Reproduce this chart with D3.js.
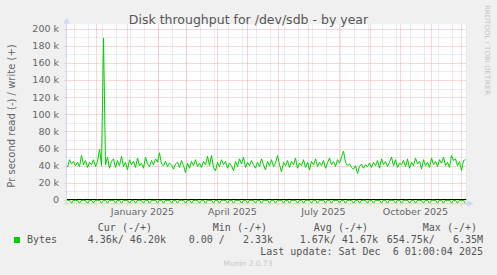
<!DOCTYPE html>
<html>
<head>
<meta charset="utf-8">
<script src="https://cdn.jsdelivr.net/npm/d3@7"></script>
<style>
  body { margin: 0; background: #f0f0f0; }
  svg { display: block; }
  text { font-family: "DejaVu Sans", sans-serif; fill: #666; }
  .mono { font-family: "DejaVu Sans Mono", monospace; font-size: 10px; fill: #555; }
</style>
</head>
<body>
<script>
// write (+) in k, one sample every 2 days
var writeK = [
  38, 47, 42, 45, 40, 44, 39, 52, 41, 46, 38, 44, 41, 47, 39, 45, 59, 40, 189, 41,
  50, 37, 45, 48, 38, 46, 40, 51, 39, 44, 35, 47, 41, 45, 38, 49, 40, 43, 37, 50,
  42, 39, 46, 41, 48, 44, 55, 42, 40, 45, 39, 43, 41, 36, 42, 44, 38, 46, 40, 32,
  43, 37, 45, 40, 47, 39, 43, 38, 45, 41, 51, 40, 52, 38, 34, 44, 39, 47, 41, 45,
  37, 43, 40, 34, 45, 39, 48, 42, 50, 38, 44, 40, 46, 41, 37, 44, 39, 48, 41, 35,
  45, 40, 47, 39, 43, 52, 41, 33, 44, 40, 46, 38, 45, 41, 49, 37, 43, 40, 47, 38,
  44, 35, 45, 41, 48, 39, 44, 40, 46, 37, 43, 49, 41, 45, 39, 47, 43, 50, 57, 44,
  40, 42, 38, 36, 40, 31, 39, 42, 37, 41, 39, 43, 38, 44, 40, 46, 37, 48, 41, 45,
  39, 44, 50, 40, 47, 38, 43, 41, 46, 39, 48, 37, 44, 40, 49, 42, 45, 36, 47, 40,
  44, 38, 49, 41, 45, 39, 47, 43, 50, 40, 44, 38, 52, 46, 48, 40, 45, 34, 46, 47
]
// read (-) in k, same samples
var readK = [
  0.4, 0.5, 3.8, 0.3, 0.5, 0.4, 3.6, 0.5, 0.3, 0.6, 3.9, 0.4, 0.5, 3.5, 0.4, 0.3, 0.6, 3.7, 0.5, 0.4,
  3.8, 0.3, 0.5, 0.4, 3.6, 0.5, 0.4, 3.9, 0.3, 0.5, 0.4, 3.7, 0.4, 0.5, 3.8, 0.3, 0.4, 0.5, 3.6, 0.4,
  0.3, 3.9, 0.5, 0.4, 0.3, 3.7, 0.5, 0.4, 3.8, 0.3, 0.5, 0.4, 3.6, 0.4, 0.5, 3.9, 0.3, 0.4, 0.5, 3.7,
  0.4, 0.3, 3.8, 0.5, 0.4, 0.3, 3.6, 0.5, 0.4, 3.9, 0.3, 0.5, 0.4, 3.7, 0.4, 0.5, 3.8, 0.3, 0.4, 0.5,
  3.6, 0.4, 0.3, 3.9, 0.5, 0.4, 0.3, 3.7, 0.5, 0.4, 3.8, 0.3, 0.5, 0.4, 3.6, 0.4, 0.5, 3.9, 0.3, 0.4,
  0.5, 3.7, 0.4, 0.3, 3.8, 0.5, 0.4, 0.3, 3.6, 0.5, 0.4, 3.9, 0.3, 0.5, 0.4, 3.7, 0.4, 0.5, 3.8, 0.3,
  0.4, 0.5, 3.6, 0.4, 0.3, 3.9, 0.5, 0.4, 0.3, 3.7, 0.5, 0.4, 3.8, 0.3, 0.5, 0.4, 3.6, 0.4, 0.5, 3.9,
  0.3, 0.4, 0.5, 3.7, 0.4, 0.3, 3.8, 0.5, 0.4, 0.3, 3.6, 0.5, 0.4, 3.9, 0.3, 0.5, 0.4, 3.7, 0.4, 0.5,
  3.8, 0.3, 0.4, 0.5, 3.6, 0.4, 0.3, 3.9, 0.5, 0.4, 0.3, 3.7, 0.5, 0.4, 3.8, 0.3, 0.5, 0.4, 3.6, 0.4,
  0.5, 3.9, 0.3, 0.4, 0.5, 3.7, 0.4, 0.3, 3.8, 0.5, 0.4, 0.3, 3.6, 0.5, 0.4, 3.9, 0.3, 0.5, 0.4, 4.4
]
var yTicks = [0, 20000, 40000, 60000, 80000, 100000, 120000, 140000, 160000, 180000, 200000]
var monthLabels = ["January 2025", "April 2025", "July 2025", "October 2025"]
var legendHead = ["Cur (-/+)", "Min (-/+)", "Avg (-/+)", "Max (-/+)"]
var legendVals = ["4.36k/ 46.20k", "0.00 /   2.33k", "1.67k/ 41.67k", "654.75k/   6.35M"]

var W = 497, H = 275,
    pLeft = 66.5, pRight = 466.5, pTop = 28.5, pBottom = 203.5,
    green = "#00cc00", axisCol = "#cfd6f8"

var endT = new Date(2025, 11, 6, 1, 0, 4),
    startT = d3.timeDay.offset(endT, -400)

var x = d3.scaleTime().domain([startT, endT]).range([pLeft, pRight])
var y = d3.scaleLinear().domain([-4100, 200000]).range([pBottom, pTop])

var data = writeK.map(function(v, i) {
  return { t: d3.timeDay.offset(startT, 2 * i + 1), w: v * 1000, r: -readK[i] * 1000 }
})

var svg = d3.select("body").append("svg")
    .attr("width", W).attr("height", H)

svg.append("rect").attr("width", W).attr("height", H).attr("fill", "#f0f0f0")
svg.append("rect").attr("x", pLeft).attr("y", pTop - 4).attr("width", pRight - pLeft)
    .attr("height", pBottom - pTop + 4).attr("fill", "#fff")

svg.append("defs").append("clipPath").attr("id", "clip")
  .append("rect").attr("x", pLeft).attr("y", pTop - 4).attr("width", pRight - pLeft).attr("height", pBottom - pTop + 4)

// grid: minor
var minorY = d3.range(10000, 200001, 20000)
svg.selectAll(".gy").data(minorY).enter().append("line")
    .attr("x1", pLeft - 2).attr("x2", pRight)
    .attr("y1", function(d) { return Math.round(y(d)) + 0.5 })
    .attr("y2", function(d) { return Math.round(y(d)) + 0.5 })
    .attr("stroke", "#d8d8d8").attr("stroke-dasharray", "1,1")

var minorX = d3.timeDay.range(new Date(2024, 10, 9), endT, 14)
svg.selectAll(".gx").data(minorX).enter().append("line")
    .attr("x1", function(d) { return Math.round(x(d)) + 0.5 })
    .attr("x2", function(d) { return Math.round(x(d)) + 0.5 })
    .attr("y1", pTop - 4).attr("y2", pBottom + 2)
    .attr("stroke", "#d8d8d8").attr("stroke-dasharray", "1,1")

// grid: major
svg.selectAll(".my").data(yTicks).enter().append("line")
    .attr("x1", pLeft - 2).attr("x2", pRight)
    .attr("y1", function(d) { return Math.round(y(d)) + 0.5 })
    .attr("y2", function(d) { return Math.round(y(d)) + 0.5 })
    .attr("stroke", "#eeb0b0").attr("stroke-dasharray", "1,1")

var months = d3.timeMonth.range(startT, endT)
svg.selectAll(".mx").data(months).enter().append("line")
    .attr("x1", function(d) { return Math.round(x(d)) + 0.5 })
    .attr("x2", function(d) { return Math.round(x(d)) + 0.5 })
    .attr("y1", pTop - 4).attr("y2", pBottom + 2)
    .attr("stroke", "#eeb0b0").attr("stroke-dasharray", "1,1")

// y labels
svg.selectAll(".yl").data(yTicks).enter().append("text")
    .attr("x", 59).attr("y", function(d) { return y(d) + 3.5 })
    .attr("text-anchor", "end").style("font-size", "9.5px")
    .text(function(d) { return d == 0 ? "0" : (d / 1000) + " k" })

// x labels, centred half a month after the month start
var labelMonths = [new Date(2025, 0, 1), new Date(2025, 3, 1), new Date(2025, 6, 1), new Date(2025, 9, 1)]
svg.selectAll(".xl").data(labelMonths).enter().append("text")
    .attr("x", function(d) { return x(d3.timeDay.offset(d, 15)) })
    .attr("y", 215).attr("text-anchor", "middle").style("font-size", "9.5px")
    .text(function(d, i) { return monthLabels[i] })

// data
var plot = svg.append("g").attr("clip-path", "url(#clip)")
plot.append("line").attr("x1", pLeft).attr("x2", pRight)
    .attr("y1", Math.round(y(0)) - 0.5).attr("y2", Math.round(y(0)) - 0.5)
    .attr("stroke", "#000")
plot.append("path").datum(data)
    .attr("fill", "none").attr("stroke", green).attr("stroke-width", 1)
    .attr("d", d3.line().x(function(d) { return x(d.t) }).y(function(d) { return y(d.r) }))
plot.append("path").datum(data)
    .attr("fill", "none").attr("stroke", green).attr("stroke-width", 1)
    .attr("d", d3.line().x(function(d) { return x(d.t) }).y(function(d) { return y(d.w) }))

// axes
svg.append("line").attr("x1", pLeft).attr("x2", pLeft).attr("y1", pTop - 6).attr("y2", pBottom + 1)
    .attr("stroke", axisCol)
svg.append("path").attr("d", "M" + (pLeft - 3) + "," + (pTop - 5) + "L" + pLeft + "," + (pTop - 11) + "L" + (pLeft + 3) + "," + (pTop - 5) + "Z")
    .attr("fill", axisCol)
svg.append("line").attr("x1", pLeft - 3).attr("x2", pRight + 2).attr("y1", pBottom).attr("y2", pBottom)
    .attr("stroke", axisCol)
svg.append("path").attr("d", "M" + (pRight + 1) + "," + (pBottom - 3) + "L" + (pRight + 7) + "," + pBottom + "L" + (pRight + 1) + "," + (pBottom + 3) + "Z")
    .attr("fill", axisCol)

// title and side texts
svg.append("text").attr("x", 248.5).attr("y", 24).attr("text-anchor", "middle")
    .style("font-size", "12.5px").style("fill", "#555")
    .text("Disk throughput for /dev/sdb - by year")
svg.append("text").attr("transform", "translate(14.5," + ((pTop + pBottom) / 2) + ") rotate(-90)")
    .attr("text-anchor", "middle").style("font-size", "10px")
    .text("Pr second read (-) / write (+)")
svg.append("text").attr("transform", "translate(485,5) rotate(90)")
    .style("font-size", "7px").style("fill", "#c4c4c4")
    .text("RRDTOOL / TOBI OETIKER")

// legend
svg.append("rect").attr("x", 14).attr("y", 237).attr("width", 6).attr("height", 6).attr("fill", green)
svg.append("text").attr("class", "mono").attr("x", 27).attr("y", 242.5).text("Bytes")
var headEnd = [152, 267, 368, 477], valEnd = [166, 273, 378, 483]
svg.selectAll(".lh").data(legendHead).enter().append("text")
    .attr("class", "mono").attr("text-anchor", "end").attr("xml:space", "preserve")
    .attr("x", function(d, i) { return headEnd[i] }).attr("y", 230.5)
    .text(function(d) { return d })
svg.selectAll(".lv").data(legendVals).enter().append("text")
    .attr("class", "mono").attr("text-anchor", "end").attr("xml:space", "preserve")
    .attr("x", function(d, i) { return valEnd[i] }).attr("y", 242.5)
    .text(function(d) { return d })
svg.append("text").attr("class", "mono").attr("text-anchor", "end").attr("xml:space", "preserve")
    .attr("x", 483).attr("y", 254.5).text("Last update: Sat Dec  6 01:00:04 2025")
svg.append("text").attr("x", 248).attr("y", 266).attr("text-anchor", "middle")
    .style("font-size", "7.5px").style("fill", "#c8c8c8").text("Munin 2.0.73")
</script>
</body>
</html>
